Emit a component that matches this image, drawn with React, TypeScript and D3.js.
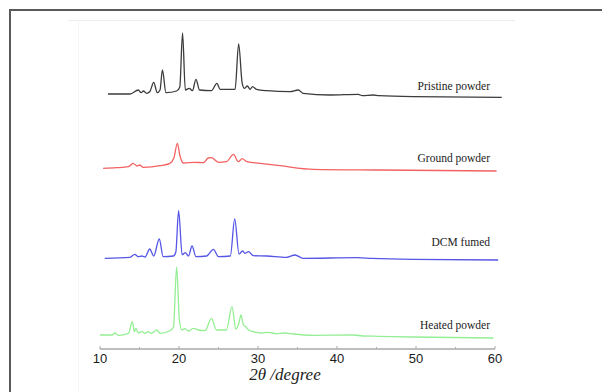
import React from "react";
import * as d3 from "d3";

// ---- data (2θ in degrees, intensity in arbitrary units above each pattern's baseline) ----
const seriesNames = ["Pristine powder", "Ground powder", "DCM fumed", "Heated powder"];
const seriesOffsets = [252, 178, 89, 11];
const seriesColors = ["#3c3c3c", "#f26262", "#5656e6", "#94ee94"];

const pristineX = [11.0, 13.8, 14.85, 15.2, 15.5, 15.9, 16.3, 16.8, 17.25, 17.6, 17.9, 18.35, 19.7, 20.1, 20.45, 20.8, 21.3, 21.7, 22.15, 22.6, 24.1, 24.8, 25.2, 27.1, 27.55, 28.0, 28.3, 28.65, 29.0, 29.3, 29.8, 31.1, 34.05, 35.1, 35.7, 39.1, 42.7, 43.2, 44.6, 45.3, 49.65, 60.85];
const pristineY = [3, 3, 7, 4.3, 6, 3.7, 5.3, 14.7, 4.3, 7, 27, 4.3, 6, 10, 64, 7, 8.7, 6.3, 17.7, 7, 6.3, 13.7, 7.7, 7.7, 53, 13.7, 8.7, 11, 7.7, 10.3, 7.7, 6.3, 5.3, 7, 3.7, 2, 2.7, 1.3, 2, 1.3, 0.3, -0.3];

const groundX = [10.4, 12.1, 13.6, 14.2, 14.7, 15.0, 15.5, 17.6, 18.85, 19.35, 19.8, 20.1, 20.55, 22.0, 23.1, 23.7, 24.1, 25.0, 26.0, 26.9, 27.5, 28.0, 28.6, 30.25, 32.8, 37.0, 45.4, 60.2];
const groundY = [2.7, 3.3, 4.3, 7.7, 5, 6, 3.7, 5.3, 7.7, 13, 27.7, 16, 8, 8.7, 8.3, 13, 13.3, 8.7, 9.3, 16.7, 9.3, 12.3, 9.3, 7.7, 5.3, 1.7, 1, 0];

const dcmX = [10.6, 13.8, 14.4, 14.85, 15.3, 15.7, 16.3, 16.8, 17.5, 18.0, 19.3, 19.6, 19.95, 20.4, 20.8, 21.2, 21.65, 22.15, 23.5, 24.35, 25.0, 26.5, 27.05, 27.6, 28.05, 28.35, 28.8, 29.4, 31.1, 33.6, 34.7, 35.7, 42.5, 44.4, 49.65, 60.4];
const dcmY = [1.7, 2.7, 5.7, 3.3, 4, 3, 11, 4, 21, 3.3, 4, 8, 49.3, 5.3, 7.3, 4, 14, 3.3, 4, 10.7, 3.3, 4, 41, 6, 9, 6.7, 8.3, 4.3, 4, 2.7, 5, 1.7, 2.3, 1.7, 0.7, 0];

const heatedX = [10.0, 11.5, 11.9, 12.3, 13.6, 14.1, 14.35, 14.55, 14.85, 15.3, 15.7, 16.1, 16.5, 17.2, 17.6, 18.8, 19.3, 19.7, 20.05, 20.35, 20.75, 21.2, 21.8, 22.45, 23.3, 24.1, 24.75, 26.0, 26.7, 27.2, 27.55, 27.85, 28.15, 28.45, 28.8, 29.4, 30.45, 31.3, 32.35, 33.4, 34.45, 37.0, 42.1, 43.3, 45.2, 49.65, 59.8];
const heatedY = [3, 3, 5, 2.7, 4.7, 16.3, 6.3, 9.7, 5, 6.3, 4.7, 6.3, 4.7, 8, 4.7, 7, 11, 71, 18, 8, 9.3, 7, 9.7, 8, 7.3, 19.7, 8, 8, 31.3, 9, 14, 23, 13, 11.3, 8, 6.3, 5, 5.7, 4.3, 5, 4, 2.7, 3, 2, 1.7, 1, 0];

const seriesX = [pristineX, groundX, dcmX, heatedX];
const seriesY = [pristineY, groundY, dcmY, heatedY];

const xTicks = [10, 20, 30, 40, 50, 60];
const xMinorTicks = [15, 25, 35, 45, 55];
const xLabel = "2θ /degree";

export default function App() {
  const W = 602;
  const H = 392;
  const x = d3.scaleLinear().domain([10, 60]).range([100, 495]);
  const y = d3.scaleLinear().domain([0, 330]).range([349, 19]);
  const axisY = y(0);

  const line = d3
    .line<[number, number]>()
    .x((d) => x(d[0]))
    .y((d) => y(d[1]))
    .curve(d3.curveMonotoneX);

  return (
    <svg
      width={W}
      height={H}
      style={{ position: "absolute", left: 0, top: 0, background: "#fff" }}
    >
      <rect x={0} y={0} width={W} height={H} fill="#fff" />
      {/* outer frame */}
      <rect x={10} y={10} width={W} height={H} fill="none" stroke="#5a5a5a" strokeWidth={2} />
      {/* faint inner box edges */}
      <line x1={68} x2={515} y1={20.5} y2={20.5} stroke="#ececec" strokeWidth={1} />
      <line x1={78.5} x2={78.5} y1={20} y2={392} stroke="#f6f6f6" strokeWidth={1} />

      {/* patterns */}
      {seriesNames.map((name, i) => {
        const pts: [number, number][] = seriesX[i].map((v, j) => [v, seriesY[i][j] + seriesOffsets[i]]);
        return (
          <path
            key={name}
            d={line(pts) || ""}
            fill="none"
            stroke={seriesColors[i]}
            strokeWidth={1.3}
            strokeLinejoin="round"
          />
        );
      })}

      {/* series labels */}
      {seriesNames.map((name, i) => {
        const ly = [90, 162, 246, 329][i];
        return (
          <text
            key={"lbl" + name}
            x={490}
            y={ly}
            textAnchor="end"
            fontFamily="'Liberation Serif', 'Times New Roman', serif"
            fontSize={11.5}
            fill="#222"
          >
            {name}
          </text>
        );
      })}

      {/* x axis */}
      <line x1={x(10)} x2={x(60)} y1={axisY} y2={axisY} stroke="#a8a8a8" strokeWidth={1.5} />
      {xTicks.map((t) => (
        <g key={"t" + t}>
          <line x1={x(t)} x2={x(t)} y1={axisY} y2={axisY - 3} stroke="#a8a8a8" strokeWidth={1} />
          <text
            x={x(t)}
            y={axisY + 14}
            textAnchor="middle"
            fontFamily="'Liberation Sans', Arial, sans-serif"
            fontSize={13}
            fill="#1a1a1a"
          >
            {t}
          </text>
        </g>
      ))}
      {xMinorTicks.map((t) => (
        <line key={"m" + t} x1={x(t)} x2={x(t)} y1={axisY} y2={axisY - 2} stroke="#b0b0b0" strokeWidth={1} />
      ))}
      <text
        x={285}
        y={380}
        textAnchor="middle"
        fontFamily="'Liberation Serif', 'Times New Roman', serif"
        fontStyle="italic"
        fontSize={17}
        fill="#222"
      >
        {xLabel}
      </text>
    </svg>
  );
}
